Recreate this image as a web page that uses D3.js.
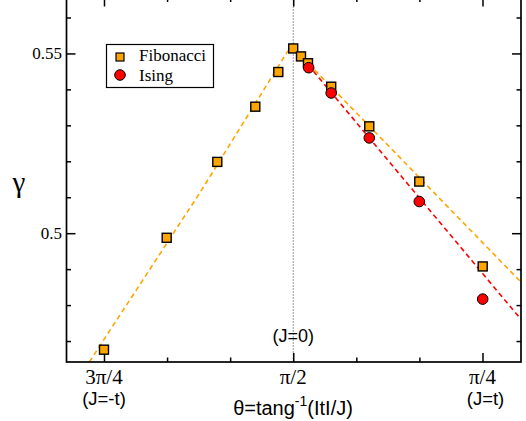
<!DOCTYPE html>
<html>
<head>
<meta charset="utf-8">
<script src="https://cdn.jsdelivr.net/npm/d3@7"></script>
<style>
  html, body { margin: 0; padding: 0; background: #fff; }
  svg { display: block; }
</style>
</head>
<body>
<svg id="chart" width="526" height="421"></svg>
<script>
// ---------------- data ----------------
const PI = Math.PI;
// Fibonacci (orange squares): theta (rad), gamma
const fibTheta = [2.3562, 2.0960, 1.8860, 1.7283, 1.6328, 1.5710, 1.5386, 1.5096, 1.4133, 1.2552, 1.0477, 0.7846];
const fibGamma = [0.4676, 0.49872, 0.51983, 0.53519, 0.54483, 0.55139, 0.54917, 0.54728, 0.54075, 0.52972, 0.51436, 0.49075];
// Ising (red circles)
const isingTheta = [1.5067, 1.4133, 1.2552, 1.0477, 0.7846];
const isingGamma = [0.54603, 0.53900, 0.52650, 0.50881, 0.48167];
// fitted dashed lines
const fitLeftTheta = [2.4172, 1.9578, 1.5926];
const fitLeftGamma = [0.46417, 0.51131, 0.55075];
const fitRightTheta = [1.5553, 0.6256];
const fitRightGamma = [0.55047, 0.48639];
const fitIsingTheta = [1.5096, 0.6256];
const fitIsingGamma = [0.54686, 0.47603];
// axis ticks
const xMajorTicks = [3 * PI / 4, PI / 2, PI / 4];
const xMajorLabels = ["3\u03c0/4", "\u03c0/2", "\u03c0/4"];
const xSubLabels = ["(J=-t)", "", "(J=t)"];
const xMinorTicks = [2 * PI / 3, 7 * PI / 12, 5 * PI / 12, PI / 3];
const yMajorTicks = [0.5, 0.55];
const yMajorLabels = ["0.5", "0.55"];
const yMinorTicks = [0.47, 0.48, 0.49, 0.51, 0.52, 0.53, 0.54, 0.56];
const seriesNames = ["Fibonacci", "Ising"];

// ---------------- layout ----------------
const L = 66.5, R = 521, T = -2.5, B = 362;
const svg = d3.select("#chart");
const x = d3.scaleLinear().domain([2.5118, 0.6256]).range([L, R]);
const y = d3.scaleLinear().domain([0.46417, 0.56556]).range([B, T]);

const serif = "'Liberation Serif', 'Times New Roman', serif";
const sans = "'Liberation Sans', Arial, Helvetica, sans-serif";

svg.append("defs").append("clipPath").attr("id", "clip")
  .append("rect").attr("x", L).attr("y", T).attr("width", R - L).attr("height", B - T);

// vertical dotted line at pi/2
svg.append("line")
  .attr("x1", x(PI / 2)).attr("x2", x(PI / 2))
  .attr("y1", y.range()[1]).attr("y2", B)
  .attr("stroke", "#333").attr("stroke-width", 1)
  .attr("stroke-dasharray", "1,2");

// fit lines
const line = d3.line().x(d => x(d[0])).y(d => y(d[1]));
const plot = svg.append("g").attr("clip-path", "url(#clip)");
function fit(th, ga, color) {
  plot.append("path")
    .datum(th.map((t, i) => [t, ga[i]]))
    .attr("d", line)
    .attr("fill", "none")
    .attr("stroke", color)
    .attr("stroke-width", 1.6)
    .attr("stroke-dasharray", "5,3.5");
}
fit(fitLeftTheta, fitLeftGamma, "#ffa500");
fit(fitRightTheta, fitRightGamma, "#ffa500");
fit(fitIsingTheta, fitIsingGamma, "#ff0000");

// axes (ticks inward, all four sides)
function styleAxis(g) {
  g.select(".domain").remove();
  g.selectAll("text").remove();
  g.selectAll("line").attr("stroke", "#000").attr("stroke-width", 1.5);
}
svg.append("g").attr("transform", `translate(0,${B})`)
  .call(d3.axisBottom(x).tickValues(xMajorTicks).tickSize(-9)).call(styleAxis);
svg.append("g").attr("transform", `translate(0,${B})`)
  .call(d3.axisBottom(x).tickValues(xMinorTicks).tickSize(-4.5)).call(styleAxis);
svg.append("g").attr("transform", `translate(0,${T})`)
  .call(d3.axisTop(x).tickValues(xMajorTicks).tickSize(-9)).call(styleAxis);
svg.append("g").attr("transform", `translate(0,${T})`)
  .call(d3.axisTop(x).tickValues(xMinorTicks).tickSize(-4.5)).call(styleAxis);
svg.append("g").attr("transform", `translate(${L},0)`)
  .call(d3.axisLeft(y).tickValues(yMajorTicks).tickSize(-9)).call(styleAxis);
svg.append("g").attr("transform", `translate(${L},0)`)
  .call(d3.axisLeft(y).tickValues(yMinorTicks).tickSize(-4.5)).call(styleAxis);
svg.append("g").attr("transform", `translate(${R},0)`)
  .call(d3.axisRight(y).tickValues(yMajorTicks).tickSize(-9)).call(styleAxis);
svg.append("g").attr("transform", `translate(${R},0)`)
  .call(d3.axisRight(y).tickValues(yMinorTicks).tickSize(-4.5)).call(styleAxis);

// frame
svg.append("rect")
  .attr("x", L).attr("y", T).attr("width", R - L).attr("height", B - T)
  .attr("fill", "none").attr("stroke", "#000").attr("stroke-width", 1.7);

// tick labels
svg.selectAll(".xlab").data(xMajorTicks).enter().append("text")
  .attr("x", d => x(d)).attr("y", 384)
  .attr("text-anchor", "middle")
  .attr("font-family", serif).attr("font-size", 21)
  .text((d, i) => xMajorLabels[i]);
svg.selectAll(".xsub").data(xMajorTicks).enter().append("text")
  .attr("x", (d, i) => x(d) + (i === 2 ? 3 : 0)).attr("y", 405)
  .attr("text-anchor", "middle")
  .attr("font-family", sans).attr("font-size", 18.5)
  .text((d, i) => xSubLabels[i]);
svg.selectAll(".ylab").data(yMajorTicks).enter().append("text")
  .attr("x", 62).attr("y", d => y(d)).attr("dy", "0.33em")
  .attr("text-anchor", "end")
  .attr("font-family", serif).attr("font-size", 17)
  .text((d, i) => yMajorLabels[i]);

// (J=0)
svg.append("text")
  .attr("x", x(PI / 2)).attr("y", 342)
  .attr("text-anchor", "middle")
  .attr("font-family", sans).attr("font-size", 18)
  .text("(J=0)");

// axis titles
const xt = svg.append("text")
  .attr("x", 293).attr("y", 415)
  .attr("text-anchor", "middle")
  .attr("font-family", sans).attr("font-size", 20);
xt.append("tspan").text("\u03b8=tang");
xt.append("tspan").attr("dy", -9).attr("font-size", 14).text("-1");
xt.append("tspan").attr("dy", 9).text("(ItI/J)");

svg.append("text")
  .attr("x", 19).attr("y", 192)
  .attr("text-anchor", "middle")
  .attr("font-family", serif).attr("font-size", 29)
  .text("\u03b3");

// markers
const sq = 9;
svg.selectAll(".fib").data(fibTheta).enter().append("rect")
  .attr("x", d => x(d) - sq / 2)
  .attr("y", (d, i) => y(fibGamma[i]) - sq / 2)
  .attr("width", sq).attr("height", sq)
  .attr("fill", "#ffa500").attr("stroke", "#000").attr("stroke-width", 1.4);
svg.selectAll(".ising").data(isingTheta).enter().append("circle")
  .attr("cx", d => x(d))
  .attr("cy", (d, i) => y(isingGamma[i]))
  .attr("r", 5.3)
  .attr("fill", "#ff0000").attr("stroke", "#000").attr("stroke-width", 1);

// legend
const lg = svg.append("g");
lg.append("rect").attr("x", 106.5).attr("y", 44.5).attr("width", 107).attr("height", 43)
  .attr("fill", "#fff").attr("stroke", "#000").attr("stroke-width", 1.2);
lg.append("rect").attr("x", 120 - 4).attr("y", 57 - 4).attr("width", 8).attr("height", 8)
  .attr("fill", "#ffa500").attr("stroke", "#000").attr("stroke-width", 1.2);
lg.append("circle").attr("cx", 120).attr("cy", 75).attr("r", 5.3)
  .attr("fill", "#ff0000").attr("stroke", "#000").attr("stroke-width", 1);
lg.selectAll(".lt").data(seriesNames).enter().append("text")
  .attr("x", 139).attr("y", (d, i) => 61 + i * 19.5)
  .attr("font-family", serif).attr("font-size", 17)
  .text(d => d);
</script>
</body>
</html>
